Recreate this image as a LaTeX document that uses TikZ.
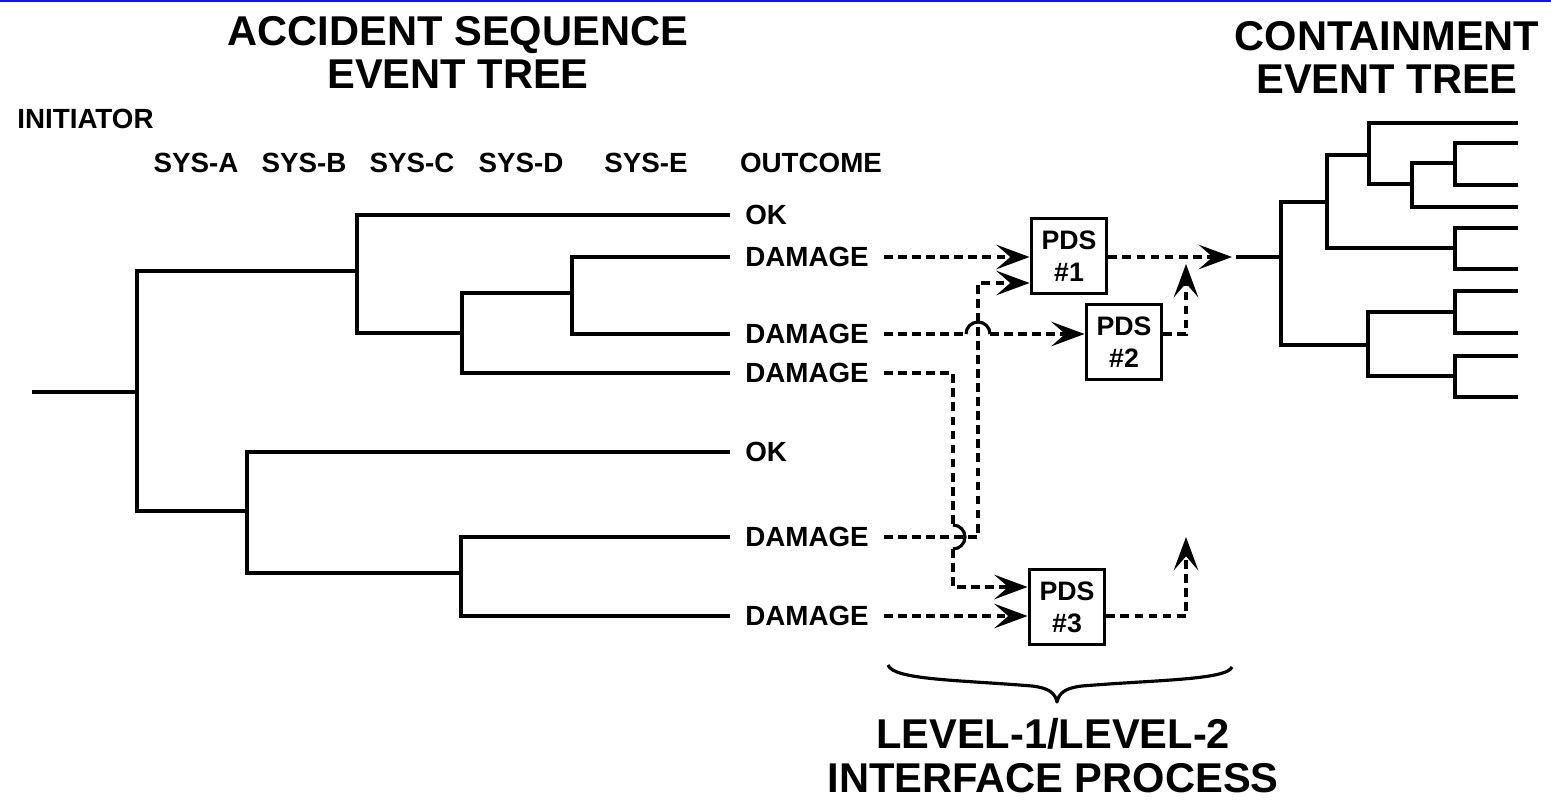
\documentclass[tikz,border=0pt]{standalone}
\usepackage{fontspec}
\setsansfont{Liberation Sans}
\usetikzlibrary{arrows.meta}
\definecolor{scanblue}{HTML}{1414E6}
\newcommand{\titlesize}{\fontsize{23.7}{25}\selectfont}
\newcommand{\labelsize}{\fontsize{15.8}{19}\selectfont}
\newcommand{\boxsize}{\fontsize{15.2}{18.2}\selectfont}

\begin{document}
\begin{tikzpicture}[x=0.02cm,y=-0.02cm,font=\sffamily\bfseries,>=Stealth]
  \tikzset{
    branch/.style={line width=1.9pt},
    flowline/.style={line width=1.8pt,dash pattern=on 5pt off 3pt},
    flowarrow/.style={flowline,-{Stealth[length=19pt,width=14pt,inset=8pt]}},
    title/.style={font=\sffamily\bfseries\titlesize,align=center,inner sep=0pt},
    column/.style={font=\sffamily\bfseries\labelsize,inner sep=0pt},
    outcome/.style={font=\sffamily\bfseries\labelsize,anchor=west,inner xsep=0.3cm,inner ysep=0pt},
    pdsbox/.style={draw,line width=2.2pt,minimum width=1.5cm,minimum height=1.5cm,align=center,inner sep=0pt,font=\sffamily\bfseries\boxsize}
  }
  \useasboundingbox (0,0) rectangle (1551,811);
  \fill[scanblue] (0,0) rectangle (1551,2.5);

  % titles
  \node[title] (aset) at (458,52.5) {ACCIDENT SEQUENCE\\EVENT TREE};
  \node[title] (cet) at (1387,57.5) {CONTAINMENT\\EVENT TREE};
  \node[title] (iface) at (1053,756) {LEVEL-1/LEVEL-2\\INTERFACE PROCESS};

  % column headings
  \node[column,anchor=west] (init) at (17,119) {INITIATOR};
  \node[column] (sysa) at (196,163) {SYS-A};
  \node[column] (sysb) at (304,163) {SYS-B};
  \node[column] (sysc) at (412,163) {SYS-C};
  \node[column] (sysd) at (521,163) {SYS-D};
  \node[column] (syse) at (646,163) {SYS-E};
  \node[column] (outc) at (811,163) {OUTCOME};

  % outcomes
  \node[outcome] (ok1) at (730,215) {OK};
  \node[outcome] (dmg1) at (730,257) {DAMAGE};
  \node[outcome] (dmg2) at (730,334) {DAMAGE};
  \node[outcome] (dmg3) at (730,373) {DAMAGE};
  \node[outcome] (ok2) at (730,452) {OK};
  \node[outcome] (dmg4) at (730,537) {DAMAGE};
  \node[outcome] (dmg5) at (730,616) {DAMAGE};

  % plant damage states
  \node[pdsbox] (pds1) at (1069,256) {PDS\\\#1};
  \node[pdsbox] (pds2) at (1124,342) {PDS\\\#2};
  \node[pdsbox] (pds3) at (1067,607) {PDS\\\#3};

  % accident sequence tree
  \draw[branch] (32,392) -- (137,392);
  \draw[branch] (357,271) -| (137,511) -- (247,511);
  \draw[branch] (ok1.west) -| (357,333) -- (462,333);
  \draw[branch] (572,293) -| (462,373) -- (dmg3.west);
  \draw[branch] (dmg1.west) -| (572,334) -- (dmg2.west);
  \draw[branch] (ok2.west) -| (247,573) -- (461,573);
  \draw[branch] (dmg4.west) -| (461,616) -- (dmg5.west);

  % interface wiring
  \coordinate (hopA) at (953,537);
  \coordinate (hopC) at (978,334);
  \coordinate (up1) at (978,283);
  \coordinate (dn3) at (953,587);
  \coordinate (mrg1) at (1186,264);
  \coordinate (mrg2) at (1186,537);
  \coordinate (ctin) at (1232,257);
  \coordinate (ctroot) at (1281,257);

  \draw[flowarrow] (dmg1.east) -- (pds1.west |- dmg1.east);
  \draw[flowline] (dmg2.east) -- ([xshift=-0.24cm]hopC);
  \draw[line width=1.8pt] ([xshift=-0.24cm]hopC) arc[start angle=180,end angle=0,radius=0.24cm];
  \draw[flowarrow] ([xshift=0.24cm]hopC) -- (pds2.west |- hopC);
  \draw[flowline] (dmg3.east) -| ([yshift=0.24cm]hopA);
  \draw[line width=1.8pt] ([yshift=0.24cm]hopA) arc[start angle=90,end angle=-90,radius=0.24cm];
  \draw[flowarrow] ([yshift=-0.24cm]hopA) -- (dn3) -- (pds3.west |- dn3);
  \draw[flowarrow] (dmg4.east) -| (up1) -- (pds1.west |- up1);
  \draw[flowarrow] (dmg5.east) -- (pds3.west |- dmg5.east);
  \draw[flowarrow] (pds1.east |- ctin) -- (ctin);
  \draw[flowarrow] (pds2.east |- hopC) -| (mrg1);
  \draw[flowarrow] (pds3.east |- dmg5.east) -| (mrg2);

  % containment event tree
  \draw[branch] ([xshift=0.08cm]ctin) -- (ctroot);
  \draw[branch] (1327,202) -| (1281,345) -- (1368,345);
  \draw[branch] (1369,155) -| (1327,248) -- (1455,248);
  \draw[branch] (1518,123) -| (1369,184) -- (1412,184);
  \draw[branch] (1455,163) -| (1412,207) -- (1518,207);
  \draw[branch] (1455,312) -| (1368,376) -- (1455,376);
  \foreach \ya/\yb in {143/185,228/269,291/333,356/397}
    \draw[branch] (1518,\ya) -| (1455,\yb) -- (1518,\yb);

  % brace
  \draw[line width=1.8pt,line join=round] (888,665) .. controls (893,680) and (960,680) .. (1032,686)
    .. controls (1049,688) and (1055,693) .. (1057,702)
    .. controls (1059,693) and (1065,688) .. (1082,686)
    .. controls (1154,680) and (1227,680) .. (1232,667);
\end{tikzpicture}
\end{document}
